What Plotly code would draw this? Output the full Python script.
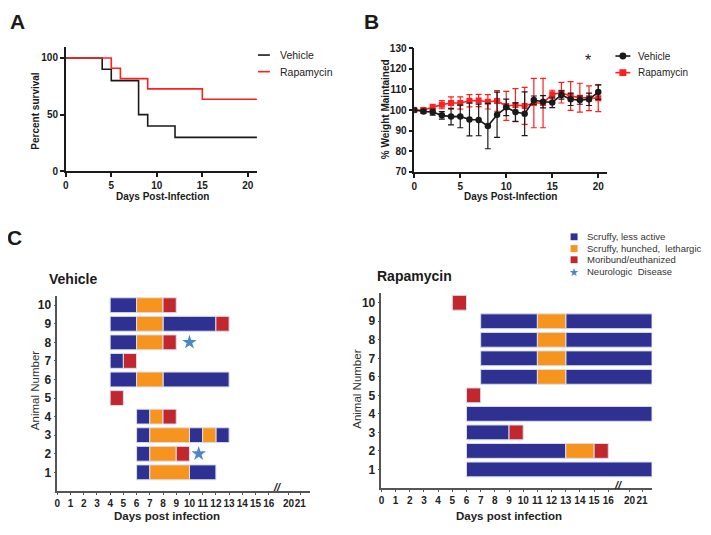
import plotly.graph_objects as go

# ---------------- Panel A: survival ----------------
surv_days_vehicle = [0, 4, 5, 8, 9, 12, 21]
surv_vehicle = [100, 90, 80, 50, 40, 30, 30]
surv_days_rapa = [0, 5, 6, 9, 15, 21]
surv_rapa = [100, 90.9, 81.8, 72.7, 63.6, 63.6]

# ---------------- Panel B: weight ----------------
weight_days = list(range(21))
weight_vehicle = [100, 99.3, 99.0, 97.4, 96.8, 96.9, 95.4, 95.2, 92.2, 97.7, 101.3,
                  99.0, 98.2, 104.8, 104.0, 103.7, 107.3, 105.2, 104.8, 105.2, 108.7]
weight_vehicle_err = [0, 1.0, 1.5, 1.8, 4.0, 5.5, 8.0, 7.7, 11.0, 11.0, 4.0,
                      4.5, 10.6, 2.0, 3.0, 2.5, 2.0, 3.0, 2.0, 3.0, 3.5]
weight_rapa = [100, 100, 101.3, 102.6, 103.4, 103.4, 104.5, 104.6, 104.0, 104.4, 102.0,
               102.4, 102.0, 103.4, 103.4, 107.6, 108.4, 106.8, 106.0, 105.7, 105.7]
weight_rapa_err = [0, 1.0, 1.5, 2.0, 3.0, 3.0, 3.0, 3.0, 3.5, 5.0, 7.0,
                   8.0, 9.0, 12.0, 12.0, 2.0, 5.0, 7.0, 7.0, 6.0, 6.5]

# ---------------- Panel C: clinical course ----------------
states = ["Scruffy, less active", "Scruffy, hunched,  lethargic", "Moribund/euthanized"]

veh_animal = [10, 10, 10, 9, 9, 9, 9, 8, 8, 8, 7, 7, 6, 6, 6, 5,
              4, 4, 4, 3, 3, 3, 3, 3, 2, 2, 2, 1, 1, 1]
veh_start = [4, 6, 8, 4, 6, 8, 12, 4, 6, 8, 4, 5, 4, 6, 8, 4,
             6, 7, 8, 6, 7, 10, 11, 12, 6, 7, 9, 6, 7, 10]
veh_end = [6, 8, 9, 6, 8, 12, 13, 6, 8, 9, 5, 6, 6, 8, 13, 5,
           7, 8, 9, 7, 10, 11, 12, 13, 7, 9, 10, 7, 10, 12]
veh_state = [0, 1, 2, 0, 1, 0, 2, 0, 1, 2, 0, 2, 0, 1, 0, 2,
             0, 1, 2, 0, 1, 0, 1, 0, 0, 1, 2, 0, 1, 0]
veh_star_animal = [8, 2]
veh_star_day = [10, 10.7]

rapa_animal = [10, 9, 9, 9, 8, 8, 8, 7, 7, 7, 6, 6, 6, 5, 4, 3, 3, 2, 2, 2, 1]
rapa_start = [5, 7, 11, 13, 7, 11, 13, 7, 11, 13, 7, 11, 13, 6, 6, 6, 9, 6, 13, 15, 6]
rapa_end = [6, 11, 13, 21.8, 11, 13, 21.8, 11, 13, 21.8, 11, 13, 21.8, 7, 21.8, 9, 10,
            13, 15, 16, 21.8]
rapa_state = [2, 0, 1, 0, 0, 1, 0, 0, 1, 0, 0, 1, 0, 2, 0, 0, 2, 0, 1, 2, 0]

gantt_tick_days = list(range(17)) + [20, 21]

FONT = "Liberation Sans, Arial, sans-serif"
BLACK = "#1a1a1a"
RED = "#ff1f1f"
STATE_COLORS = ["#2e3192", "#f7941d", "#c1272d"]
STAR = "#4a86c8"

# page body has an 8px margin: the figure is drawn 8px in from the window edge
OFF = 8
W, H = 711 - OFF, 535 - OFF


def day_pos(d):
    # broken axis: days 17-19 are cut out
    return d if d <= 16 else 17.5 + 0.88 * (d - 20)


def px(x):
    return (x - OFF) / W


def py(y):
    return 1 - (y - OFF) / H


fig = go.Figure()

# Panel A
fig.add_trace(go.Scatter(x=surv_days_vehicle, y=surv_vehicle, mode="lines",
                         line=dict(color=BLACK, width=1.6, shape="hv"),
                         xaxis="x", yaxis="y", showlegend=False))
fig.add_trace(go.Scatter(x=surv_days_rapa, y=surv_rapa, mode="lines",
                         line=dict(color=RED, width=1.6, shape="hv"),
                         xaxis="x", yaxis="y", showlegend=False))

# Panel B
fig.add_trace(go.Scatter(x=weight_days, y=weight_rapa, mode="lines+markers",
                         line=dict(color=RED, width=1.6),
                         marker=dict(symbol="square", size=6, color=RED),
                         error_y=dict(type="data", array=weight_rapa_err, color=RED,
                                      thickness=1.2, width=3),
                         xaxis="x2", yaxis="y2", showlegend=False))
fig.add_trace(go.Scatter(x=weight_days, y=weight_vehicle, mode="lines+markers",
                         line=dict(color=BLACK, width=1.6),
                         marker=dict(symbol="circle", size=6.5, color=BLACK),
                         error_y=dict(type="data", array=weight_vehicle_err, color=BLACK,
                                      thickness=1.2, width=3),
                         xaxis="x2", yaxis="y2", showlegend=False))


def add_gantt(animals, starts, ends, st, xa, ya):
    for k, color in enumerate(STATE_COLORS):
        idx = [i for i, s in enumerate(st) if s == k]
        fig.add_trace(go.Bar(
            orientation="h",
            y=[animals[i] for i in idx],
            base=[day_pos(starts[i]) for i in idx],
            x=[day_pos(ends[i]) - day_pos(starts[i]) for i in idx],
            width=0.8,
            marker=dict(color=color, line=dict(color="#d8def0", width=1)),
            xaxis=xa, yaxis=ya, showlegend=False, name=states[k]))


add_gantt(veh_animal, veh_start, veh_end, veh_state, "x3", "y3")
add_gantt(rapa_animal, rapa_start, rapa_end, rapa_state, "x4", "y4")
fig.add_trace(go.Scatter(x=[day_pos(d) for d in veh_star_day], y=veh_star_animal,
                         mode="markers", marker=dict(symbol="star", size=11, color=STAR),
                         xaxis="x3", yaxis="y3", showlegend=False))

ab_axis = dict(showline=True, linecolor=BLACK, linewidth=1.5, ticks="outside",
               ticklen=4, tickwidth=1.5, tickcolor=BLACK, showgrid=False, zeroline=False,
               tickfont=dict(family=FONT, size=10, color=BLACK, weight="bold"))
g_axis = dict(showline=True, linecolor="#555", linewidth=1.5, ticks="outside",
              ticklen=2, tickwidth=1, tickcolor="#555", showgrid=False, zeroline=False)
g_xfont = dict(family=FONT, size=10, color="#222", weight="bold")
g_yfont = dict(family=FONT, size=12, color="#222", weight="bold")

fig.update_layout(
    width=W, height=H, margin=dict(l=0, r=0, t=0, b=0),
    paper_bgcolor="white", plot_bgcolor="white", barmode="overlay",
    xaxis=dict(domain=[px(63), px(255)], range=[0, 21], anchor="y",
               tickvals=[0, 5, 10, 15, 20], **ab_axis),
    yaxis=dict(domain=[py(169), py(41.4)], range=[0, 110], anchor="x",
               tickvals=[0, 50, 100], **ab_axis),
    xaxis2=dict(domain=[px(413), px(607)], range=[0, 21], anchor="y2",
                tickvals=[0, 5, 10, 15, 20], **ab_axis),
    yaxis2=dict(domain=[py(169.5), py(43)], range=[70, 130], anchor="x2",
                tickvals=[70, 80, 90, 100, 110, 120, 130], **ab_axis),
    xaxis3=dict(domain=[px(54.5), px(308)], range=[0, 19.1], anchor="y3",
                tickvals=[day_pos(d) for d in gantt_tick_days], tickangle=0,
                ticktext=[str(d) for d in gantt_tick_days], tickfont=g_xfont, **g_axis),
    yaxis3=dict(domain=[py(496), py(296.5)], range=[0, 10.5], anchor="x3",
                tickvals=list(range(1, 11)), tickfont=g_yfont, **g_axis),
    xaxis4=dict(domain=[px(380), px(652)], range=[0, 19.1], anchor="y4",
                tickvals=[day_pos(d) for d in gantt_tick_days], tickangle=0,
                ticktext=[str(d) for d in gantt_tick_days], tickfont=g_xfont, **g_axis),
    yaxis4=dict(domain=[py(493), py(294)], range=[0, 10.5], anchor="x4",
                tickvals=list(range(1, 11)), tickfont=g_yfont, **g_axis),
)

ann = []
shapes = []


def text(x, y, t, size, bold=False, color=BLACK, xanchor="center", angle=0):
    ann.append(dict(x=px(x), y=py(y), xref="paper", yref="paper", text=t,
                    showarrow=False, xanchor=xanchor, yanchor="middle", textangle=angle,
                    borderpad=0,
                    font=dict(family=FONT, size=size, color=color,
                              weight="bold" if bold else "normal")))


# panel letters
text(15, 16, "A", 21, True)
text(370, 16, "B", 21, True)
text(12, 237, "C", 21, True)

# axis titles A/B
text(33, 107, "Percent survival", 10, True, angle=-90)
text(160, 195, "Days Post-Infection", 10, True)
text(384, 105, "% Weight Maintained", 10, True, angle=-90)
text(510, 195, "Days Post-Infection", 10, True)

# legend A
for yy, col, lab in [(50, BLACK, "Vehicle"), (67, RED, "Rapamycin")]:
    shapes.append(dict(type="line", xref="paper", yref="paper", x0=px(256), x1=px(268),
                       y0=py(yy), y1=py(yy), line=dict(color=col, width=1.6)))
    text(277, yy, lab, 10.5, xanchor="left", color="#222")

# legend B
shapes.append(dict(type="line", xref="paper", yref="paper", x0=px(615), x1=px(630),
                   y0=py(51), y1=py(51), line=dict(color=BLACK, width=1.6)))
shapes.append(dict(type="circle", xref="paper", yref="paper", x0=px(619), x1=px(626),
                   y0=py(54.5), y1=py(47.5), fillcolor=BLACK, line=dict(width=0)))
text(637, 51, "Vehicle", 10, xanchor="left", color="#222")
shapes.append(dict(type="line", xref="paper", yref="paper", x0=px(615), x1=px(630),
                   y0=py(68), y1=py(68), line=dict(color=RED, width=1.6)))
shapes.append(dict(type="rect", xref="paper", yref="paper", x0=px(619), x1=px(626),
                   y0=py(71.5), y1=py(64.5), fillcolor=RED, line=dict(width=0)))
text(637, 68, "Rapamycin", 10, xanchor="left", color="#222")
text(587, 56, "*", 16, color="#222")

# Gantt titles
text(45, 279, "Vehicle", 14, True, xanchor="left")
text(375, 276, "Rapamycin", 14, True, xanchor="left")
text(32, 393, "Animal Number", 11.5, angle=-90, color="#333")
text(356, 392, "Animal Number", 11.5, angle=-90, color="#333")
text(165, 522, "Days post infection", 11.5, True, color="#222")
text(508, 522, "Days post infection", 11.5, True, color="#222")

# axis break marks
text(276, 492, "<i>//</i>", 11, True, color="#222")
text(618, 490, "<i>//</i>", 11, True, color="#222")

# Legend C
for yy, col, lab in zip([236, 248, 259.5], STATE_COLORS, states):
    shapes.append(dict(type="rect", xref="paper", yref="paper", x0=px(570), x1=px(577),
                       y0=py(yy + 3.5), y1=py(yy - 3.5), fillcolor=col, line=dict(width=0)))
    text(585, yy, lab, 9.5, xanchor="left", color="#333")
text(573, 272, "★", 11, color=STAR)
text(585, 271, "Neurologic  Disease", 9.5, xanchor="left", color="#333")

fig.update_layout(annotations=ann, shapes=shapes)
fig.write_html("out.html")
